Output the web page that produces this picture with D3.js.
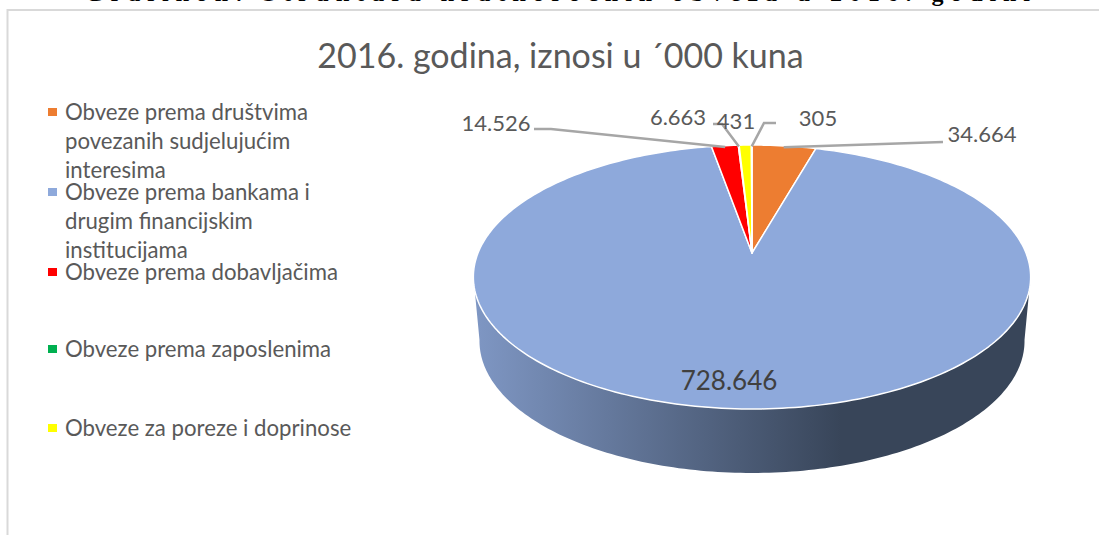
<!DOCTYPE html>
<html>
<head>
<meta charset="utf-8">
<script src="https://d3js.org/d3.v7.min.js"></script>
<style>
	html, body { margin: 0; padding: 0; background: #fff; }
	svg { display: block; }
	text { font-family: Lato, sans-serif; fill: #595959; }
</style>
</head>
<body>
<svg id="chart" width="1099" height="535"></svg>
<script>
// Chart data, clockwise from twelve o'clock
var chartTitle = "2016. godina, iznosi u ´000 kuna";
// Only the bottom of this line shows in the source, the wording is a best guess
var cutOffCaption = "Grafikon: Struktura kratkoročnih obveza u 2016. godini";
var sliceValues = [34664, 728646, 14526, 431, 6663, 305];
var sliceLabels = ["34.664", "728.646", "14.526", "431", "6.663", "305"];
var sliceColors = ["#ed7d31", "#8ea9db", "#ff0000", "#00b050", "#ffff00", "#ffc000"];
var legendLines = [
	["Obveze prema društvima", "povezanih sudjelujućim", "interesima"],
	["Obveze prema bankama i", "drugim financijskim", "institucijama"],
	["Obveze prema dobavljačima"],
	["Obveze prema zaposlenima"],
	["Obveze za poreze i doprinose"]
];
var legendColors = ["#ed7d31", "#8ea9db", "#ff0000", "#00b050", "#ffff00"];
var legendRows = [112, 192, 272, 349, 428];

var svg = d3.select("#chart");

// Pie geometry: the apex sits above the middle of the ellipse because of perspective
var apex = {x: 752, y: 253},
	persp = 0.182,
	rimA = 274,
	rimB = 127.6,
	depth = 64;

// Map an angle (0 = top, clockwise) on the pie disc to the screen
var project = (a, r) => {
	let u = Math.sin(a) * r,
		v = -Math.cos(a) * r,
		w = 1 - persp * v;
	return [apex.x + rimA * u / w, apex.y + rimB * v / w];
}

var pie = d3.pie().sort(null).value(d => d)(sliceValues);

// Page frame and the cut off caption above it
svg.append("text")
	.attr("x", 85)
	.attr("y", 1)
	.attr("textLength", 945)
	.attr("lengthAdjust", "spacing")
	.style("font-family", "'Liberation Serif', serif")
	.style("font-size", "24px")
	.style("font-weight", "bold")
	.style("fill", "#000")
	.text(cutOffCaption);

svg.append("path")
	.attr("d", "M7.5,535V10H1099")
	.attr("fill", "none")
	.attr("stroke", "#d9d9d9")
	.attr("stroke-width", 2);

// Title
svg.append("text")
	.attr("x", 560.5)
	.attr("y", 68)
	.attr("text-anchor", "middle")
	.style("font-size", "34px")
	.text(chartTitle);

// Side wall
var defs = svg.append("defs");
var grad = defs.append("linearGradient")
	.attr("id", "wallGrad")
	.attr("gradientUnits", "userSpaceOnUse")
	.attr("x1", 473).attr("x2", 1031)
	.attr("y1", 0).attr("y2", 0);
grad.append("stop").attr("offset", "0").attr("stop-color", "#7f97c4");
grad.append("stop").attr("offset", "0.66").attr("stop-color", "#384559");
grad.append("stop").attr("offset", "1").attr("stop-color", "#384559");

var rimAngles = d3.range(60, 300.5, 1).map(d => d * Math.PI / 180);
var line = d3.line();

// Keep only the part of a rim between its widest points
var visibleRim = (pts) => pts.slice(d3.greatestIndex(pts, p => p[0]), d3.leastIndex(pts, p => p[0]) + 1);

var lowerRim = visibleRim(rimAngles.map(a => {
	let p = project(a, 1);
	return [apex.x + (p[0] - apex.x) * 0.978, p[1] + depth];
}));
var upperRim = visibleRim(rimAngles.map(a => project(a, 1))).reverse();

svg.append("path")
	.attr("d", line(lowerRim.concat(upperRim)) + "Z")
	.attr("fill", "url(#wallGrad)");

// Slices
var slicePath = (d) => {
	let steps = Math.max(2, Math.ceil((d.endAngle - d.startAngle) / 0.02));
	let pts = [[apex.x, apex.y]];
	for (let i = 0; i <= steps; i++)
		pts.push(project(d.startAngle + (d.endAngle - d.startAngle) * i / steps, 1));
	return line(pts) + "Z";
}

svg.selectAll(".slice")
	.data(pie)
	.enter()
	.append("path")
	.attr("class", "slice")
	.attr("d", slicePath)
	.attr("fill", (d, i) => sliceColors[i])
	.attr("stroke", "#fff")
	.attr("stroke-width", 1.5)
	.attr("stroke-linejoin", "round");

// Leader lines: label end, elbow, then into the slice
var leaderRadius = 0.985;
var leaders = [
	{i: 0, from: [943, 142], elbow: null},
	{i: 2, from: [534, 129], elbow: [551, 129]},
	{i: 3, from: [713, 124], elbow: [722, 124]},
	{i: 5, from: [776, 123], elbow: [764, 123]}
];

svg.selectAll(".leader")
	.data(leaders)
	.enter()
	.append("path")
	.attr("class", "leader")
	.attr("d", d => {
		let s = pie[d.i];
		let end = project((s.startAngle + s.endAngle) / 2, leaderRadius);
		return line(d.elbow ? [d.from, d.elbow, end] : [d.from, end]);
	})
	.attr("fill", "none")
	.attr("stroke", "#a6a6a6")
	.attr("stroke-width", 2.5);

// Data labels
var labelPos = [[982, 134], [729, 381], [496, 123], [736, 121], [678, 117], [818, 118]];

svg.selectAll(".label")
	.data(sliceLabels)
	.enter()
	.append("text")
	.attr("class", "label")
	.attr("x", (d, i) => labelPos[i][0])
	.attr("y", (d, i) => labelPos[i][1])
	.attr("dy", "0.35em")
	.attr("text-anchor", "middle")
	.style("font-size", (d, i) => i == 1 ? "26px" : "22px")
	.style("fill", (d, i) => i == 1 ? "#404040" : "#595959")
	.text(d => d);

// Legend
var legend = svg.selectAll(".legend")
	.data(legendLines)
	.enter()
	.append("g")
	.attr("class", "legend")
	.attr("transform", (d, i) => "translate(0," + legendRows[i] + ")");

legend.append("rect")
	.attr("x", 48)
	.attr("y", -4)
	.attr("width", 9)
	.attr("height", 8)
	.attr("fill", (d, i) => legendColors[i]);

legend.selectAll("text")
	.data(d => d)
	.enter()
	.append("text")
	.attr("x", 65)
	.attr("y", (d, i) => i * 29)
	.attr("dy", "0.35em")
	.style("font-size", "22.2px")
	.text(d => d);
</script>
</body>
</html>
